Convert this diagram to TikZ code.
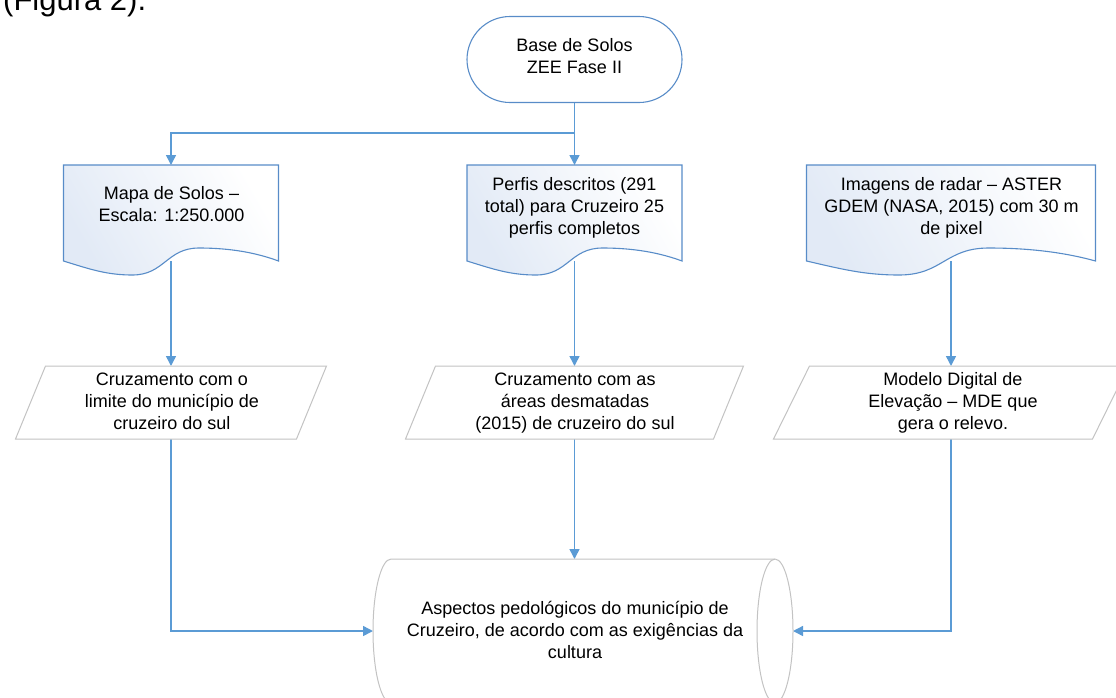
\documentclass[tikz,border=0pt]{standalone}
\usepackage{fontspec}
\setmainfont{Liberation Sans}
\usetikzlibrary{arrows.meta,calc}
\definecolor{arrowblue}{RGB}{91,155,213}
\definecolor{shapeline}{RGB}{88,140,200}
\definecolor{grayline}{RGB}{195,195,195}
\definecolor{docfill}{RGB}{226,234,246}
\pgfdeclarelayer{bg}
\pgfsetlayers{bg,main}
\newcommand\docpath[1]{%
  \shadedraw[docsty] (#1.north west) -- (#1.north east) -- (#1.south east)
  .. controls ($(#1.south west)!0.9!(#1.south east)+(0,-8)$) and ($(#1.south west)!0.78!(#1.south east)+(0,-13)$) .. ($(#1.south west)!0.63!(#1.south east)+(0,-13)$)
  .. controls ($(#1.south west)!0.48!(#1.south east)+(0,-13)$) and ($(#1.south west)!0.47!(#1.south east)+(0,14)$) .. ($(#1.south west)!0.32!(#1.south east)+(0,14)$)
  .. controls ($(#1.south west)!0.2!(#1.south east)+(0,14)$) and ($(#1.south west)!0.12!(#1.south east)+(0,8)$) .. (#1.south west) -- cycle;}
\newcommand\parapath[2]{%
  \draw[parasty] (#1.north west) -- ($(#1.north east)+(#2,0)$) -- (#1.south east) -- ($(#1.south west)+(-#2,0)$) -- cycle;}
\begin{document}
\begin{tikzpicture}[x=1pt,y=-1pt,
  txt/.style={font=\fontsize{18}{22}\selectfont, align=center, inner sep=0pt,
    execute at begin node=\strut, execute at end node=\strut},
  holder/.style={draw=none, inner sep=0pt, outer sep=0pt},
  docsty/.style={draw=shapeline, line width=1.1pt, left color=docfill, right color=white, shading angle=120},
  parasty/.style={draw=grayline, line width=1pt, fill=white},
  conn/.style={draw=arrowblue, line width=1.5pt},
  arr/.style={conn, -{Triangle[length=10pt,width=10pt]}}]
\useasboundingbox (0,0) rectangle (1116,697);

\node[anchor=base west, inner sep=0pt, font=\fontsize{31}{36}\selectfont] (fig) at (3,10) {(Figura 2).};

% terminal
\node[draw=shapeline, line width=1.1pt, fill=white, rounded corners=43pt, minimum width=215pt, minimum height=86pt, txt] (term) at (574.5,59.5) {Base de Solos\\ZEE Fase II};

% documents
\node[holder, minimum width=215pt, minimum height=96pt] (d1) at (171,213) {};
\node[holder, minimum width=215pt, minimum height=96pt] (d2) at (574.5,213) {};
\node[holder, minimum width=289pt, minimum height=96pt] (d3) at (951,213) {};
\docpath{d1}\docpath{d2}\docpath{d3}
\node[txt] (d1t) at (171.5,207.6) {Mapa de Solos –\\Escala: 1:250.000};
\node[txt] (d2t) at (574.5,209.6) {Perfis descritos (291\\total) para Cruzeiro 25\\perfis completos};
\node[txt] (d3t) at (951.5,209) {Imagens de radar – ASTER\\GDEM (NASA, 2015) com 30 m\\de pixel};

% parallelograms
\node[holder, minimum width=251pt, minimum height=73pt] (p1) at (171,402.5) {};
\node[holder, minimum width=278pt, minimum height=73pt] (p2) at (574.5,402.5) {};
\node[holder, minimum width=283pt, minimum height=73pt] (p3) at (951,402.5) {};
\parapath{p1}{30}\parapath{p2}{30}\parapath{p3}{36}
\node[txt] (p1t) at (172,405) {Cruzamento com o\\limite do município de\\cruzeiro do sul};
\node[txt] (p2t) at (575,404.6) {Cruzamento com as\\áreas desmatadas\\(2015) de cruzeiro do sul};
\node[txt] (p3t) at (953,404) {Modelo Digital de\\Elevação – MDE que\\gera o relevo.};

% output (stored data)
\node[holder, minimum width=420pt, minimum height=144pt] (out) at (583,631) {};
\draw[parasty] ($(out.north east)+(-18,0)$) -- ($(out.north west)+(18,0)$)
  arc[start angle=90, end angle=270, x radius=18pt, y radius=72pt]
  -- ($(out.south east)+(-18,0)$)
  arc[start angle=270, end angle=450, x radius=18pt, y radius=72pt] -- cycle;
\draw[draw=grayline, line width=1pt] ($(out.north east)+(-18,0)$)
  arc[start angle=90, end angle=270, x radius=18pt, y radius=72pt];
\node[txt] (outt) at (575,633) {Aspectos pedológicos do município de\\Cruzeiro, de acordo com as exigências da\\cultura};

% connectors
\begin{pgfonlayer}{bg}
\draw[arr] (term.south) -- ++(0,30) -| (d1.north);
\draw[arr] (term.south) -- (term.south |- d2.north);
\draw[arr] (d1.south) -- (d1.south |- p1.north);
\draw[arr] (d2.south) -- (d2.south |- p2.north);
\draw[arr] (d3.south) -- (d3.south |- p3.north);
\draw[arr] (p1.south) |- (out.west);
\draw[arr] (p2.south) -- (p2.south |- out.north);
\draw[arr] (p3.south) |- (out.east);
\end{pgfonlayer}
\end{tikzpicture}
\end{document}
